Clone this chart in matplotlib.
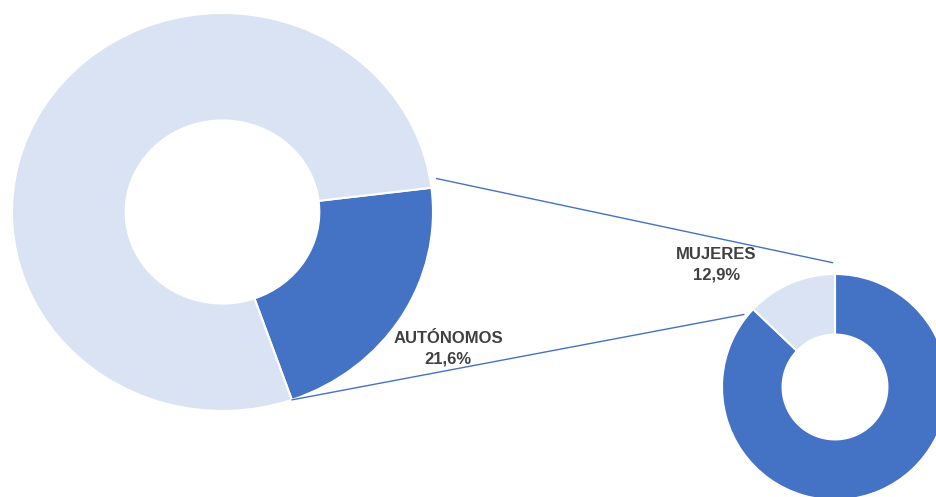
import numpy as np
import matplotlib
matplotlib.use("Agg")
import matplotlib.pyplot as plt
from matplotlib.patches import ConnectionPatch

# main donut: share of self-employed
main_labels = ["AUTÓNOMOS", "RESTO"]
main_values = [21.6, 78.4]
# secondary donut: women among the self-employed
sub_labels = ["RESTO", "MUJERES"]
sub_values = [87.1, 12.9]

DARK = "#4472C4"
LIGHT = "#DAE3F3"
TEXT = "#404040"

W, H = 936, 497
fig = plt.figure(figsize=(W / 100, H / 100), dpi=100)


def box(cx, cy, rx, ry, pad=1.05):
    # axes rectangle (figure fraction) for a donut centred at pixel (cx, cy)
    w, h = 2 * rx * pad, 2 * ry * pad
    return [(cx - w / 2) / W, (H - cy - h / 2) / H, w / W, h / H]


ax_big = fig.add_axes(box(222.5, 212, 210.5, 199))
ax_small = fig.add_axes(box(835, 387, 113, 113))

wedges_big, _ = ax_big.pie(main_values, colors=[DARK, LIGHT], startangle=7,
                           counterclock=False,
                           wedgeprops=dict(width=0.54, edgecolor="white", linewidth=1.5))
wedges_small, _ = ax_small.pie(sub_values, colors=[DARK, LIGHT], startangle=90,
                               counterclock=False,
                               wedgeprops=dict(width=0.536, edgecolor="white", linewidth=1.5))

for ax in (ax_big, ax_small):
    ax.set_aspect("auto")
    ax.set_xlim(-1.05, 1.05)
    ax.set_ylim(-1.05, 1.05)
    ax.axis("off")


def pt(r, deg):
    a = np.deg2rad(deg)
    return (r * np.cos(a), r * np.sin(a))


# Wedge stores theta1 < theta2 regardless of drawing direction
dark = wedges_big[0]     # theta1 = lower edge, theta2 = upper edge
light = wedges_small[1]  # theta1 = top (90 deg), theta2 = left edge
pairs = [
    (pt(1.03, dark.theta2 + 2.4), pt(1.1, light.theta1 + 1)),
    (pt(1.0, dark.theta1), pt(1.03, light.theta2 + 5)),
]
for a, b in pairs:
    con = ConnectionPatch(xyA=a, coordsA=ax_big.transData,
                          xyB=b, coordsB=ax_small.transData,
                          color=DARK, linewidth=1.0)
    fig.add_artist(con)

font = dict(family=["Liberation Sans", "DejaVu Sans"], weight="bold",
            fontsize=12, color=TEXT, ha="center", va="center", linespacing=1.45)
fig.text(448 / W, 1 - 348.5 / H, f"{main_labels[0]}\n{main_values[0]:.1f}%".replace(".", ","), **font)
fig.text(716.5 / W, 1 - 264.5 / H, f"{sub_labels[1]}\n{sub_values[1]:.1f}%".replace(".", ","), **font)

fig.savefig("out.png", dpi=100)
